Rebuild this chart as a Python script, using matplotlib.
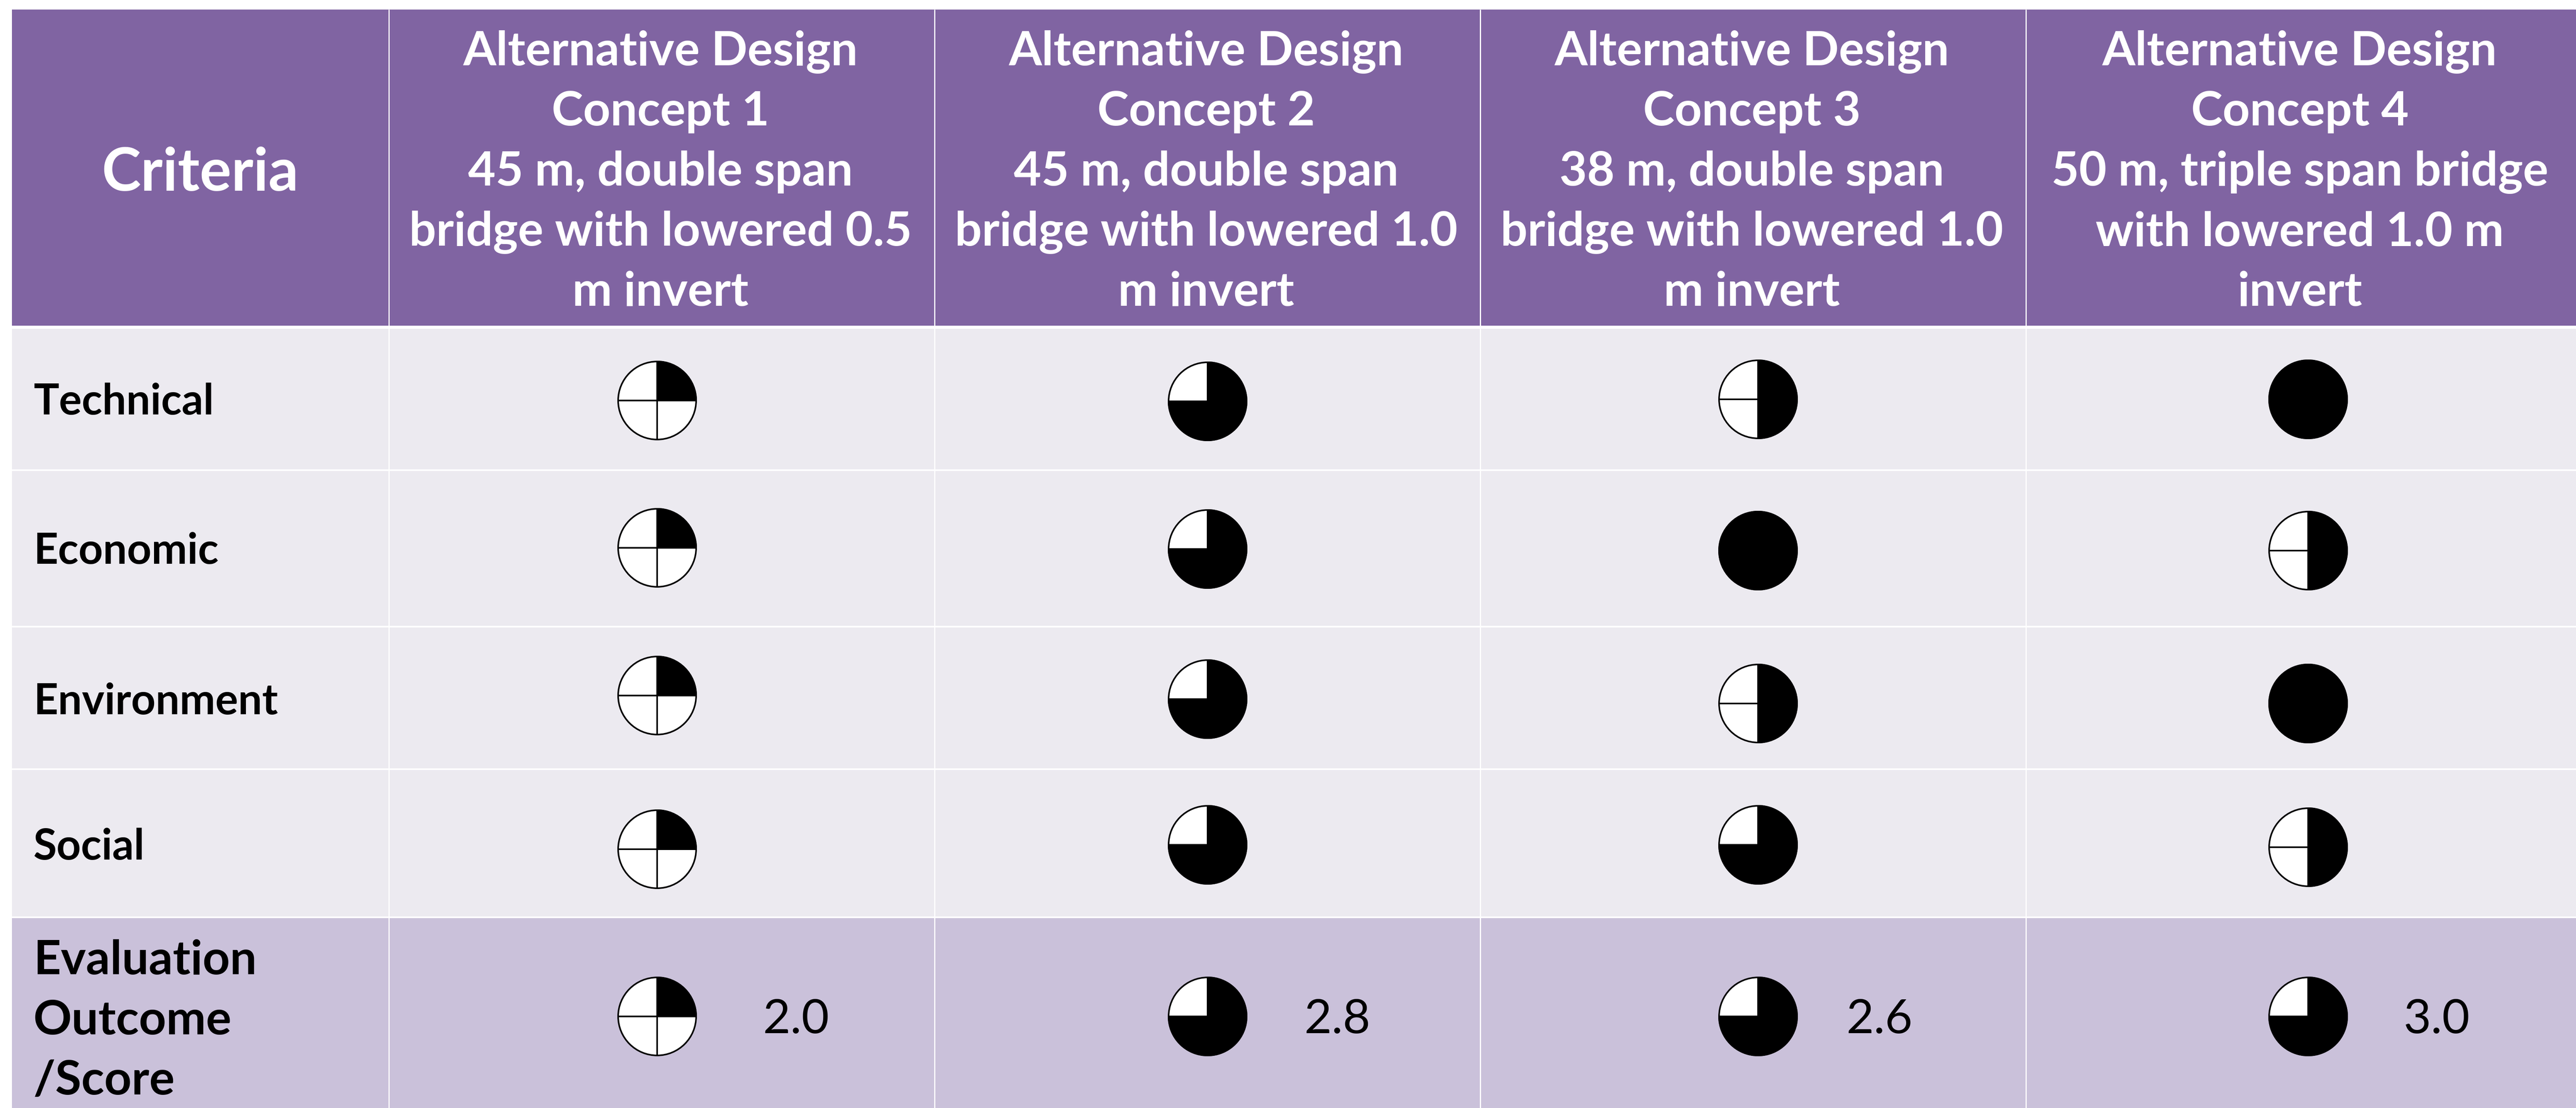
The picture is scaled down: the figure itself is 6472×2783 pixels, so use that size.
"""Design concept evaluation table with Harvey balls."""

import matplotlib
matplotlib.use("Agg")
import matplotlib.pyplot as plt
from matplotlib.patches import Circle, Rectangle, Wedge

plt.rcParams["font.family"] = ["Lato", "DejaVu Sans"]

criteria = ["Technical", "Economic", "Environment", "Social"]
outcome_label = "Evaluation\nOutcome\n/Score"
first_header = "Criteria"
concept_headers = [
    "Alternative Design\nConcept 1\n45 m, double span\nbridge with lowered 0.5\nm invert",
    "Alternative Design\nConcept 2\n45 m, double span\nbridge with lowered 1.0\nm invert",
    "Alternative Design\nConcept 3\n38 m, double span\nbridge with lowered 1.0\nm invert",
    "Alternative Design\nConcept 4\n50 m, triple span bridge\nwith lowered 1.0 m\ninvert",
]
# filled quarters of each ball, clockwise from 12 o'clock
technical = [1, 3, 2, 4]
economic = [1, 3, 4, 2]
environment = [1, 3, 2, 4]
social = [1, 3, 3, 2]
outcome = [1, 3, 3, 3]
scores = ["2.0", "2.8", "2.6", "3.0"]

W, H = 6472, 2783
PURPLE = "#8064A2"
LIGHT = "#ECEAF0"
MID = "#CAC1DA"

col_edges = [30, 977, 2348, 3719, 5090, 6472]
row_lines = [1181, 1574, 1932, 2304]
ball_x = [1651, 3034, 4417, 5799]
# balls were placed by hand in the source, so each column sits a bit differently
ball_y = [
    [1006, 1376, 1747, 2133, 2553],
    [1008, 1379, 1756, 2122, 2553],
    [1003, 1383, 1767, 2122, 2553],
    [1003, 1383, 1767, 2128, 2553],
]
label_y = [1010, 1385, 1763, 2128]
score_x = [2000, 3360, 4722, 6122]
score_y = 2561
R = 100

fig = plt.figure(figsize=(W / 100, H / 100), dpi=100)
ax = fig.add_axes([0, 0, 1, 1])
ax.set_xlim(0, W)
ax.set_ylim(H, 0)
ax.axis("off")


def harvey(x, y, quarters):
    ax.add_patch(Circle((x, y), R, fc="white", ec="none", zorder=3))
    # y axis is inverted, so angles run clockwise on screen
    ax.add_patch(Wedge((x, y), R, -90, -90 + 90 * quarters, fc="black", ec="none", zorder=4))
    ax.plot([x - R, x + R], [y, y], color="black", lw=2.9, zorder=3.5, solid_capstyle="butt")
    ax.plot([x, x], [y - R, y + R], color="black", lw=2.9, zorder=3.5, solid_capstyle="butt")
    ax.add_patch(Circle((x, y), R - 2, fc="none", ec="black", lw=2.9, zorder=5))


# cell backgrounds
ax.add_patch(Rectangle((30, 24), W - 30, 794, fc=PURPLE, ec="none"))
ax.add_patch(Rectangle((30, 826), W - 30, 2304 - 826, fc=LIGHT, ec="none"))
ax.add_patch(Rectangle((30, 2304), W - 30, H - 2304, fc=MID, ec="none"))

# grid lines
for x in col_edges[1:-1]:
    ax.plot([x, x], [24, H], color="white", lw=2.2, zorder=2, solid_capstyle="butt")
for y in row_lines:
    ax.plot([30, W], [y, y], color="white", lw=3, zorder=2, solid_capstyle="butt")

# header
ax.text(503, 436, first_header, color="white", fontsize=107, fontweight="bold",
        ha="center", va="center")
for i, label in enumerate(concept_headers):
    xc = (col_edges[i + 1] + col_edges[i + 2]) / 2
    ax.text(xc - 3, 432, label, color="white", fontsize=86, fontweight="bold",
            ha="center", va="center", linespacing=1.485)

# body rows
rows = [technical, economic, environment, social]
for j, name in enumerate(criteria):
    ax.text(84, label_y[j], name, color="black", fontsize=77, fontweight="bold",
            ha="left", va="center")
    for i, quarters in enumerate(rows[j]):
        harvey(ball_x[i], ball_y[i][j], quarters)

# evaluation row
ax.text(84, 2564, outcome_label, color="black", fontsize=86, fontweight="bold",
        ha="left", va="center", linespacing=1.485)
for i, quarters in enumerate(outcome):
    harvey(ball_x[i], ball_y[i][4], quarters)
    ax.text(score_x[i], score_y, scores[i], color="black", fontsize=86,
            ha="center", va="center")

fig.savefig("out.png", dpi=100, facecolor="white")
